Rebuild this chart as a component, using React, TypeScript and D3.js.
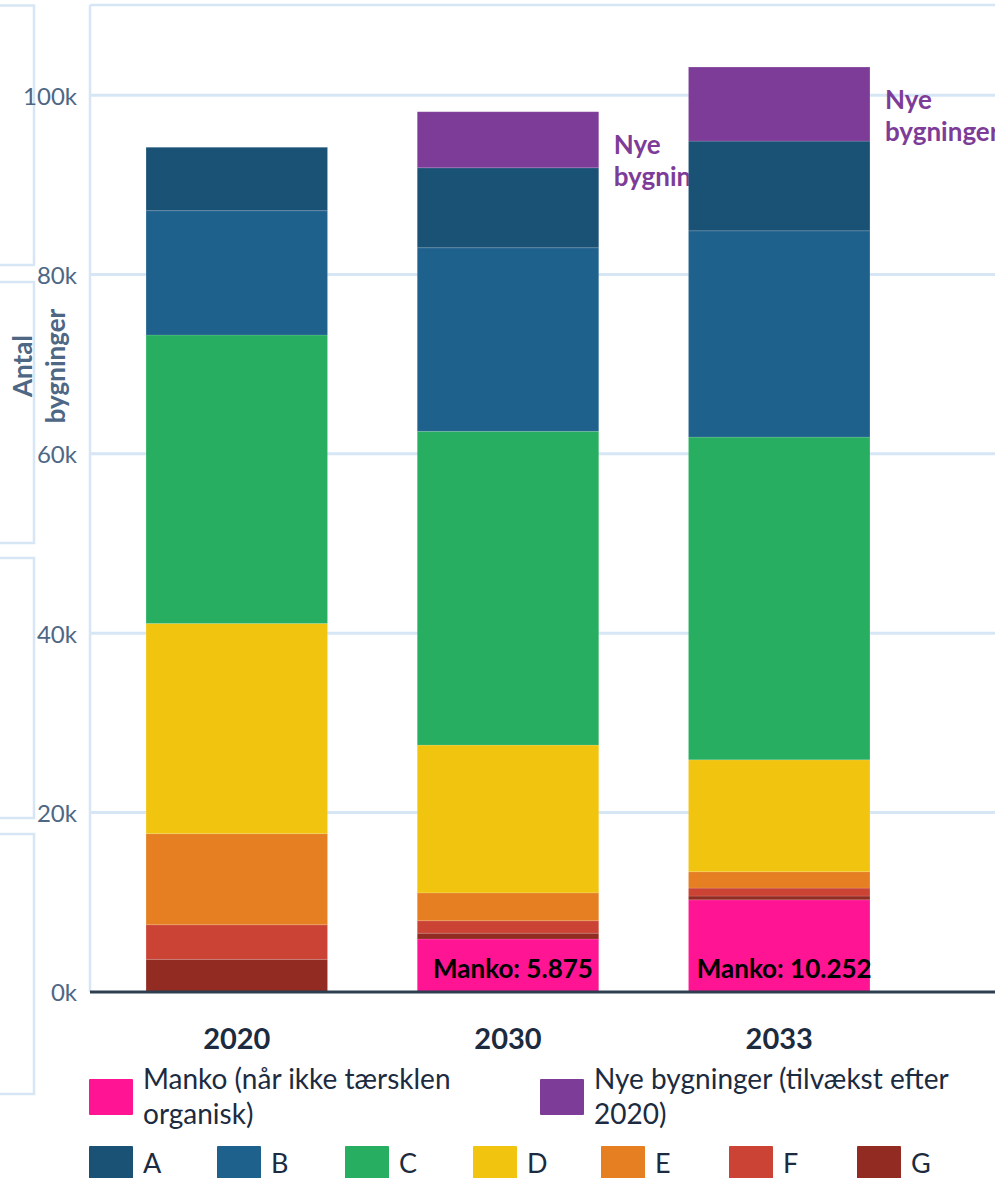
import React from "react";
import * as d3 from "d3";

const years = ["2020", "2030", "2033"];
const manko = [0, 5875, 10252];
const classG = [3610, 650, 420];
const classF = [3860, 1390, 890];
const classE = [10160, 3110, 1820];
const classD = [23450, 16490, 12490];
const classC = [32180, 35000, 36000];
const classB = [13870, 20480, 23010];
const classA = [7070, 8920, 10010];
const nye = [0, 6250, 8260];
const mankoLabels = ["", "Manko: 5.875", "Manko: 10.252"];
const yTicks = [0, 20000, 40000, 60000, 80000, 100000];
const seriesKeys = ["Manko", "G", "F", "E", "D", "C", "B", "A", "Nye"];
const seriesColors = ["#ff1493", "#922b21", "#cb4335", "#e67e22", "#f1c40f", "#27ae60", "#1f618d", "#1a5276", "#7d3c98"];
const legendTop = [
  { key: "Manko", lines: ["Manko (når ikke tærsklen", "organisk)"] },
  { key: "Nye", lines: ["Nye bygninger (tilvækst efter", "2020)"] },
];
const legendBottom = ["A", "B", "C", "D", "E", "F", "G"];
const yAxisTitle = ["Antal", "bygninger"];
const nyeLabel = ["Nye", "bygninger"];

const W = 995;
const H = 1178;
const FONT = "Lato, 'Noto Sans', sans-serif";

export default function App() {
  const table = years.map((y, i) => ({
    year: y,
    Manko: manko[i],
    G: classG[i],
    F: classF[i],
    E: classE[i],
    D: classD[i],
    C: classC[i],
    B: classB[i],
    A: classA[i],
    Nye: nye[i],
  }));
  const stacked = d3.stack<any>().keys(seriesKeys)(table);
  const color = d3.scaleOrdinal<string, string>().domain(seriesKeys).range(seriesColors);

  const x = d3.scaleBand<string>().domain(years).range([91, 925]).paddingInner(0.331).paddingOuter(0.203);
  const y = d3.scaleLinear().domain([0, 100000]).range([991.7, 95.3]);
  const bw = x.bandwidth();

  const gridColor = "#d6e6f4";
  const leftBoxes = [
    [5.5, 265],
    [282, 543],
    [558, 818],
    [834, 1094],
  ];

  return (
    <svg width={W} height={H} style={{ position: "absolute", left: 0, top: 0, background: "#fff" }} fontFamily={FONT}>
      <rect x={0} y={0} width={W} height={H} fill="#fff" />
      {leftBoxes.map(([t, b], i) => (
        <rect key={i} x={-10} y={t} width={44} height={b - t} fill="none" stroke={gridColor} strokeWidth={2.5} />
      ))}
      {/* frame lines */}
      <line x1={90} x2={W} y1={5} y2={5} stroke={gridColor} strokeWidth={2.5} />
      <line x1={90} x2={90} y1={5} y2={992} stroke={gridColor} strokeWidth={2.5} />
      {/* gridlines */}
      {yTicks.filter((t) => t > 0).map((t) => (
        <line key={t} x1={90} x2={W} y1={y(t)} y2={y(t)} stroke={gridColor} strokeWidth={3} />
      ))}
      {/* tick labels */}
      {yTicks.map((t) => (
        <text key={t} x={77} y={y(t)} textAnchor="end" dominantBaseline="central" fontSize={24} fill="#4d6785">
          {`${t / 1000}k`}
        </text>
      ))}
      {/* y title */}
      <g transform="translate(0,366) rotate(-90)">
        <text x={0} y={32} textAnchor="middle" fontSize={26} fontWeight="bold" fill="#4d6785">
          {yAxisTitle[0]}
        </text>
        <text x={0} y={65} textAnchor="middle" fontSize={26} fontWeight="bold" fill="#4d6785">
          {yAxisTitle[1]}
        </text>
      </g>
      {/* bars */}
      {years.map((yr, i) => {
        const x0 = x(yr)!;
        return (
          <g key={yr}>
            {stacked.map((s) => {
              const d = s[i];
              const h = y(d[0]) - y(d[1]);
              if (h <= 0) return null;
              return (
                <rect
                  key={s.key}
                  x={x0}
                  y={y(d[1])}
                  width={bw}
                  height={h}
                  fill={color(s.key)}
                  stroke="rgba(255,255,255,0.12)"
                  strokeWidth={1}
                />
              );
            })}
            {mankoLabels[i] && (
              <text x={x0 + bw / 2 + 5} y={978} textAnchor="middle" fontSize={26} fontWeight="bold" fill="#000">
                {mankoLabels[i]}
              </text>
            )}
            {nye[i] > 0 &&
              nyeLabel.map((l, j) => (
                <text
                  key={j}
                  x={x0 + bw + 15}
                  y={y(stacked[stacked.length - 1][i][1]) + 42 + j * 32}
                  fontSize={26}
                  fontWeight="bold"
                  fill="#7d3c98"
                >
                  {l}
                </text>
              ))}
          </g>
        );
      })}
      {/* baseline */}
      <line x1={90} x2={W} y1={992} y2={992} stroke="#2c3e50" strokeWidth={3} />
      {/* x labels */}
      {years.map((yr) => (
        <text key={yr} x={x(yr)! + bw / 2} y={1049} textAnchor="middle" fontSize={29} fontWeight="bold" fill="#1c2b3f">
          {yr}
        </text>
      ))}
      {/* legend */}
      {legendTop.map((item, i) => (
        <g key={item.key} transform={`translate(${89 + i * 451},0)`}>
          <rect x={0} y={1079} width={44} height={36} fill={color(item.key)} rx={1} />
          {item.lines.map((l, j) => (
            <text key={j} x={54} y={1089 + j * 35} fontSize={28} fill="#1c2b3f">
              {l}
            </text>
          ))}
        </g>
      ))}
      {legendBottom.map((k, i) => (
        <g key={k} transform={`translate(${89 + i * 128},0)`}>
          <rect x={0} y={1146} width={44} height={36} fill={color(k)} rx={1} />
          <text x={54} y={1173} fontSize={27} fill="#1c2b3f">
            {k}
          </text>
        </g>
      ))}
    </svg>
  );
}
